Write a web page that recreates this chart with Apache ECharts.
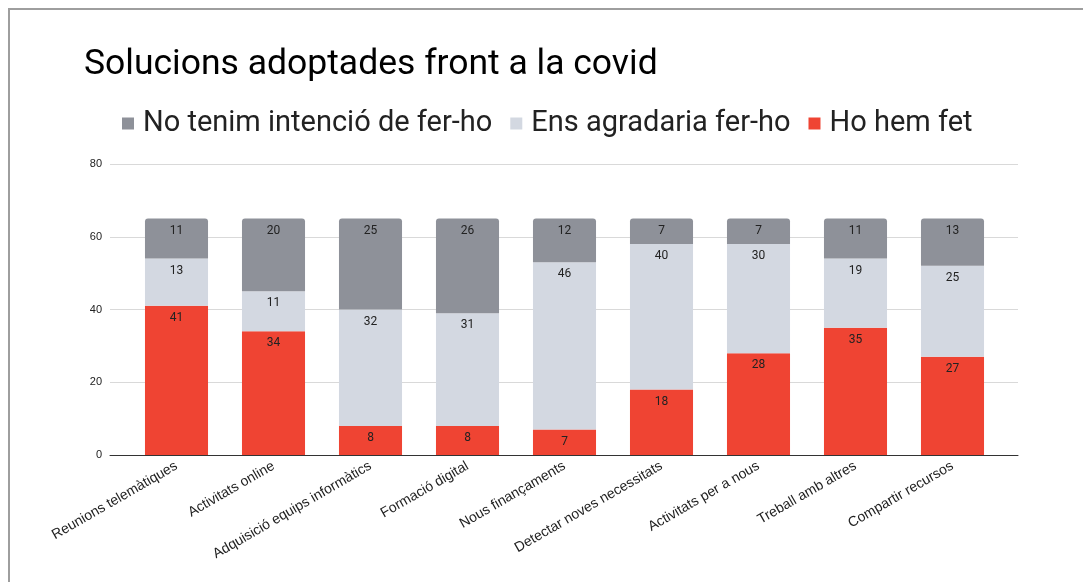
<!DOCTYPE html>
<html>
<head>
<meta charset="utf-8">
<script src="https://cdn.jsdelivr.net/npm/echarts@6/dist/echarts.min.js"></script>
<style>
  html, body { margin: 0; padding: 0; background: #fff; }
  #frame {
    position: absolute; left: 8px; top: 8px; width: 1075px; height: 574px;
    border-top: 2px solid #9e9e9e; border-left: 2px solid #9e9e9e; box-sizing: border-box;
  }
  #chart { position: absolute; left: 0; top: 0; width: 1083px; height: 582px; }
</style>
</head>
<body>
<div id="frame"></div>
<div id="chart"></div>
<script>
const categories = [
  'Reunions telemàtiques', 'Activitats online', 'Adquisició equips informàtics',
  'Formació digital', 'Nous finançaments', 'Detectar noves necessitats',
  'Activitats per a nous', 'Treball amb altres', 'Compartir recursos'
];
const hoHemFet = [41, 34, 8, 8, 7, 18, 28, 35, 27];
const ensAgradaria = [13, 11, 32, 31, 46, 40, 30, 19, 25];
const noTenim = [11, 20, 25, 26, 12, 7, 7, 11, 13];
const yTicks = { min: 0, max: 80, interval: 20 };

const chart = echarts.init(document.getElementById('chart'));

const label = {
  show: true,
  position: 'insideTop',
  distance: 6,
  fontSize: 12,
  fontFamily: 'Roboto',
  color: '#222'
};

chart.setOption({
  animation: false,
  title: {
    text: 'Solucions adoptades front a la covid',
    left: 79,
    top: 42,
    textStyle: { fontFamily: 'Roboto', fontWeight: 'normal', fontSize: 35.5, color: '#000' }
  },
  legend: {
    left: 117,
    top: 104,
    itemWidth: 12,
    itemHeight: 12,
    itemGap: 18,
    icon: 'rect',
    textStyle: { fontFamily: 'Roboto', fontSize: 29, color: '#222', padding: [0, 0, 0, 4] },
    data: ['No tenim intenció de fer-ho', 'Ens agradaria fer-ho', 'Ho hem fet']
  },
  grid: [
    // frame grid: gridlines, y labels and baseline span the full plot width
    { left: 110, right: 65, top: 164, bottom: 127, containLabel: false },
    // bar grid: inset so bars sit with padding at both ends
    { left: 128, right: 82, top: 164, bottom: 127, containLabel: false }
  ],
  xAxis: [
    {
      gridIndex: 0, type: 'category', data: [''],
      axisTick: { show: false }, axisLabel: { show: false },
      axisLine: { lineStyle: { color: '#333', width: 1 } }
    },
    {
      gridIndex: 1, type: 'category', data: categories,
      axisTick: { show: false }, axisLine: { show: false },
      axisLabel: { rotate: 30, fontSize: 14, color: '#222', fontFamily: 'Liberation Sans', margin: 10, interval: 0 }
    }
  ],
  yAxis: [
    {
      gridIndex: 0, type: 'value',
      min: yTicks.min, max: yTicks.max, interval: yTicks.interval,
      axisLabel: { fontSize: 11, color: '#222', fontFamily: 'Liberation Sans', margin: 8 },
      splitLine: { lineStyle: { color: '#d9d9d9' } }
    },
    {
      gridIndex: 1, type: 'value',
      min: yTicks.min, max: yTicks.max, interval: yTicks.interval,
      axisLabel: { show: false }, splitLine: { show: false }, axisLine: { show: false }
    }
  ],
  series: [
    {
      name: 'Ho hem fet', type: 'bar', stack: 'total', barWidth: '65%',
      xAxisIndex: 1, yAxisIndex: 1,
      data: hoHemFet, itemStyle: { color: '#ef4433' }, label
    },
    {
      name: 'Ens agradaria fer-ho', type: 'bar', stack: 'total',
      xAxisIndex: 1, yAxisIndex: 1,
      data: ensAgradaria, itemStyle: { color: '#d3d8e1' }, label
    },
    {
      name: 'No tenim intenció de fer-ho', type: 'bar', stack: 'total',
      xAxisIndex: 1, yAxisIndex: 1,
      data: noTenim, itemStyle: { color: '#8e9199', borderRadius: [3, 3, 0, 0] }, label
    }
  ]
});
</script>
</body>
</html>
